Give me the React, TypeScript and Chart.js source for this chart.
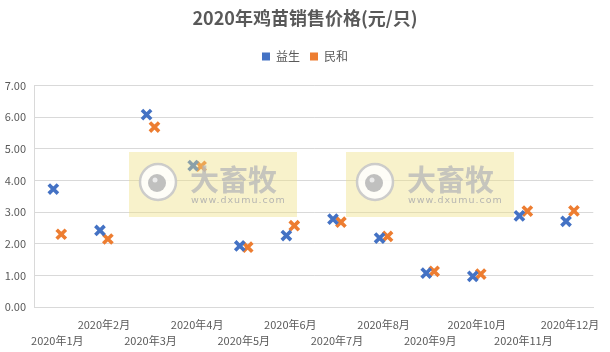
import React, { useEffect, useRef } from "react";
import { Chart, registerables } from "chart.js";

Chart.register(...registerables);

const months = [
  "2020年1月", "2020年2月", "2020年3月", "2020年4月", "2020年5月", "2020年6月",
  "2020年7月", "2020年8月", "2020年9月", "2020年10月", "2020年11月", "2020年12月",
];
const yisheng = [3.73, 2.42, 6.08, 4.47, 1.93, 2.26, 2.78, 2.18, 1.07, 0.97, 2.88, 2.71];
const minhe = [2.3, 2.15, 5.69, 4.45, 1.89, 2.57, 2.68, 2.23, 1.13, 1.04, 3.03, 3.04];
const seriesNames = ["益生", "民和"];
const seriesColors = ["#4472C4", "#ED7D31"];
const titleText = "2020年鸡苗销售价格(元/只)";
const watermarkTitle = "大畜牧";
const watermarkUrl = "www.dxumu.com";

const FONT = '"Microsoft YaHei", "Noto Sans CJK SC", sans-serif';
const TEXT = "#595959";
const GRID = "#D9D9D9";
const SHIFT = 0.085;

const watermarkPlugin = {
  id: "watermark",
  afterDraw(chart: any) {
    const ctx = chart.ctx;
    const boxes = [129, 346];
    ctx.save();
    for (const x0 of boxes) {
      const y0 = 152;
      ctx.fillStyle = "rgba(238, 225, 130, 0.42)";
      ctx.fillRect(x0, y0, 168, 65);
      const cx = x0 + 29, cy = y0 + 30;
      ctx.beginPath();
      ctx.arc(cx, cy, 18, 0, Math.PI * 2);
      ctx.fillStyle = "rgba(255,255,255,0.85)";
      ctx.fill();
      ctx.lineWidth = 2.5;
      ctx.strokeStyle = "rgba(200,200,200,0.9)";
      ctx.stroke();
      ctx.beginPath();
      ctx.arc(cx - 1, cy + 1, 9, 0, Math.PI * 2);
      ctx.fillStyle = "rgba(185,185,185,0.9)";
      ctx.fill();
      ctx.beginPath();
      ctx.arc(cx - 3, cy - 2, 2.5, 0, Math.PI * 2);
      ctx.fillStyle = "rgba(240,240,240,0.9)";
      ctx.fill();
      ctx.fillStyle = "rgba(185,185,185,0.8)";
      ctx.font = `bold 29px ${FONT}`;
      ctx.textBaseline = "middle";
      ctx.textAlign = "left";
      ctx.fillText(watermarkTitle, x0 + 61, y0 + 28);
      ctx.font = `9.5px "DejaVu Sans", sans-serif`;
      ctx.fillStyle = "rgba(175,175,175,0.9)";
      (ctx as any).letterSpacing = "1px";
      ctx.fillText(watermarkUrl, x0 + 62, y0 + 49);
      (ctx as any).letterSpacing = "0px";
    }
    ctx.restore();
  },
};

export default function App() {
  const ref = useRef<HTMLCanvasElement | null>(null);
  useEffect(() => {
    if (!ref.current) return;
    const mk = (vals: number[], i: number, shift: number) => ({
      label: seriesNames[i],
      xAxisID: "x",
      yAxisID: "y",
      data: vals.map((v, k) => ({ x: k + 1 + shift, y: v })),
      borderColor: seriesColors[i],
      backgroundColor: seriesColors[i],
      pointStyle: "crossRot",
      pointRadius: 6.5,
      pointBorderWidth: 3.6,
      pointHoverRadius: 6.5,
      showLine: false,
    });
    const chart = new Chart(ref.current, {
      type: "scatter",
      data: {
        datasets: [mk(yisheng, 0, -SHIFT), mk(minhe, 1, SHIFT)] as any,
      },
      options: {
        animation: false,
        responsive: false,
        maintainAspectRatio: false,
        layout: { padding: { left: 0, right: 0, top: 0, bottom: 0 } },
        plugins: {
          title: {
            display: true,
            text: titleText,
            color: TEXT,
            font: { family: FONT, size: 18, weight: "bold" },
            padding: { top: 7, bottom: 12 },
          },
          legend: {
            display: true,
            position: "top",
            labels: {
              color: TEXT,
              font: { family: FONT, size: 12 },
              boxWidth: 8,
              boxHeight: 8,
              padding: 10,
              generateLabels: () =>
                seriesNames.map((n, i) => ({
                  text: n,
                  fillStyle: seriesColors[i],
                  strokeStyle: seriesColors[i],
                  lineWidth: 0,
                  datasetIndex: i,
                  fontColor: TEXT,
                })),
            },
          },
          tooltip: { enabled: false },
        },
        scales: {
          x: {
            type: "linear",
            min: 0.5,
            max: 12.5,
            afterBuildTicks: (scale: any) => {
              scale.ticks = months.map((_, i) => ({ value: i + 1 }));
            },
            afterFit: (scale: any) => {
              scale.height = 45;
            },
            grid: { display: false, drawTicks: false },
            border: { display: true, color: GRID },
            ticks: {
              autoSkip: false,
              maxRotation: 0,
              minRotation: 0,
              padding: 10,
              color: TEXT,
              font: { family: FONT, size: 11, lineHeight: 1.45 },
              callback: (v: any) => {
                const i = Math.round(v) - 1;
                const lab = months[i] ?? "";
                return i % 2 === 0 ? ["", lab] : [lab, ""];
              },
            },
          },
          y: {
            min: 0,
            max: 7,
            afterFit: (scale: any) => {
              scale.width = 34;
            },
            grid: { color: GRID, drawTicks: false, lineWidth: 1 },
            border: { display: true, color: GRID },
            ticks: {
              stepSize: 1,
              padding: 8,
              color: TEXT,
              font: { family: FONT, size: 11 },
              callback: (v: any) => Number(v).toFixed(2),
            },
          },
          xTopSpacer: {
            type: "linear",
            axis: "x",
            position: "top",
            min: 0,
            max: 1,
            grid: { display: false, drawTicks: false },
            border: { display: false },
            ticks: { display: false },
            afterFit: (scale: any) => {
              scale.height = 13;
            },
          },
          yRightSpacer: {
            type: "linear",
            axis: "y",
            position: "right",
            min: 0,
            max: 1,
            grid: { display: false, drawTicks: false },
            border: { display: false },
            ticks: { display: false },
            afterFit: (scale: any) => {
              scale.width = 12;
            },
          },
        },
      } as any,
      plugins: [watermarkPlugin],
    });
    return () => chart.destroy();
  }, []);
  return (
    <div style={{ position: "fixed", left: 0, top: 0, width: 610, height: 352, background: "#fff" }}>
      <canvas ref={ref} width={610} height={352} style={{ width: 610, height: 352 }} />
    </div>
  );
}
